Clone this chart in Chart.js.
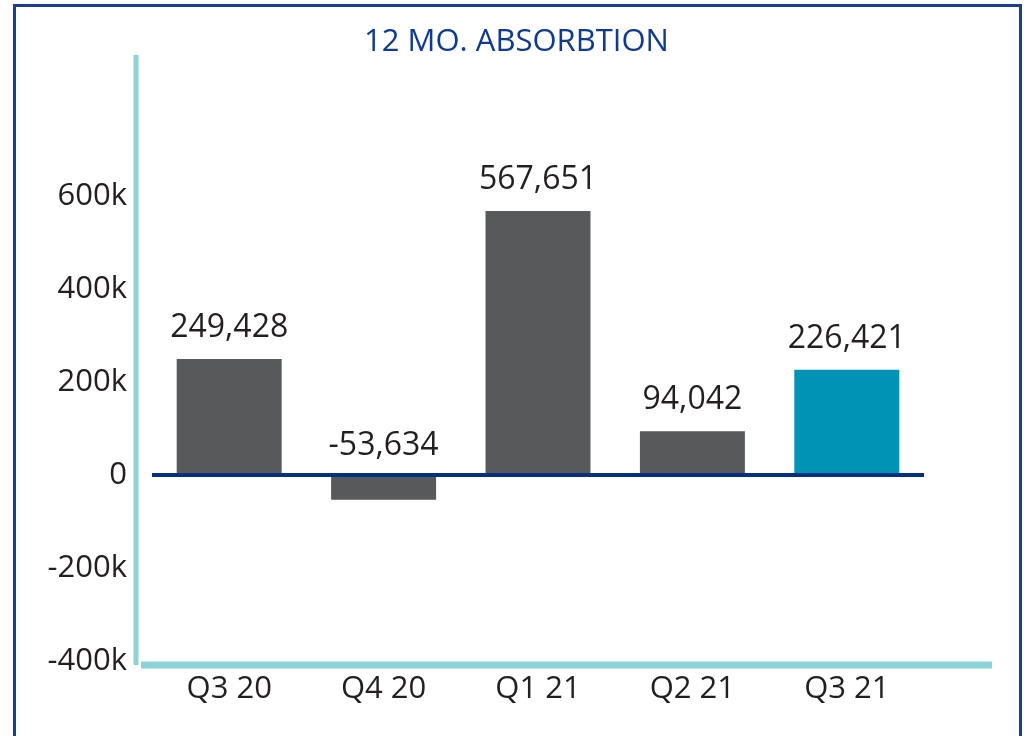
<!DOCTYPE html>
<html>
<head>
<meta charset="utf-8">
<script src="https://cdn.jsdelivr.net/npm/chart.js@4/dist/chart.umd.min.js"></script>
<style>
  body { margin: 0; background: #fff; }
  #frame {
    position: absolute; left: 13px; top: 4px; width: 1009px; height: 780px;
    border: 3px solid #1a3f8f; box-sizing: border-box;
  }
  #wrap { position: absolute; left: 0; top: 0; width: 1029px; height: 736px; }
</style>
</head>
<body>
<div id="frame"></div>
<div id="wrap"><canvas id="myChart" width="1029" height="736"></canvas></div>
<script>
let chart_title = '12 MO. ABSORBTION';
let quarters = ['Q3 20', 'Q4 20', 'Q1 21', 'Q2 21', 'Q3 21'];
let absorption = [249428, -53634, 567651, 94042, 226421];
let bar_colors = ['#58595b', '#58595b', '#58595b', '#58595b', '#0093b5'];
let y_tick_values = [-400000, -200000, 0, 200000, 400000, 600000];
let y_tick_labels = ['-400k', '-200k', '0', '200k', '400k', '600k'];

const axis_teal = '#8cd3d8';
const navy = '#00307f';

// teal axis lines drawn by hand, like the original
const axisLines = {
    id: 'axisLines',
    beforeDatasetsDraw(chart) {
        let ctx = chart.ctx;
        let a = chart.chartArea;
        ctx.save();
        ctx.strokeStyle = axis_teal;
        ctx.lineWidth = 5;
        ctx.beginPath();
        ctx.moveTo(a.left - 16, a.top - 3);
        ctx.lineTo(a.left - 16, a.bottom);
        ctx.stroke();
        ctx.lineWidth = 7;
        ctx.beginPath();
        ctx.moveTo(a.left - 11, a.bottom);
        ctx.lineTo(a.right + 68, a.bottom);
        ctx.stroke();
        ctx.restore();
    }
};

// title centred on the whole frame, not on the plot box
const frameTitle = {
    id: 'frameTitle',
    afterDraw(chart) {
        let ctx = chart.ctx;
        ctx.save();
        ctx.font = '31px "Open Sans"';
        ctx.fillStyle = '#0f3a8e';
        ctx.textAlign = 'center';
        ctx.textBaseline = 'middle';
        ctx.fillText(chart_title, chart.width / 2 + 2, 42);
        ctx.restore();
    }
};

// value labels above each bar (negative ones sit above the zero line)
const valueLabels = {
    id: 'valueLabels',
    afterDatasetsDraw(chart) {
        let ctx = chart.ctx;
        let meta = chart.getDatasetMeta(0);
        ctx.save();
        ctx.font = '32px "Open Sans"';
        ctx.fillStyle = '#231f20';
        ctx.textAlign = 'center';
        ctx.textBaseline = 'middle';
        meta.data.forEach((bar, i) => {
            let top = Math.min(bar.y, bar.base);
            ctx.fillText(absorption[i].toLocaleString('en-US'), bar.x, top - 31);
        });
        ctx.restore();
    }
};

function myChart() {
    let ctx = document.getElementById('myChart').getContext('2d');
    new Chart(ctx, {
        type: 'bar',
        data: {
            labels: quarters,
            datasets: [{
                label: '12 Mo. Absorption',
                data: absorption,
                backgroundColor: bar_colors,
                borderWidth: 0,
                barPercentage: 0.68,
                categoryPercentage: 1
            }]
        },
        options: {
            responsive: false,
            animation: false,
            layout: {
                padding: { top: 58, left: 46, right: 105, bottom: 21 }
            },
            plugins: {
                legend: { display: false },
                tooltip: { enabled: false },
                title: { display: false }
            },
            scales: {
                x: {
                    afterFit: scale => { scale.height = 50; },
                    grid: { display: false, drawTicks: false },
                    border: { display: false },
                    ticks: {
                        color: '#231f20',
                        font: { family: 'Open Sans', size: 31 },
                        padding: 6
                    }
                },
                y: {
                    min: -409000,
                    max: 897000,
                    afterFit: scale => { scale.width = 106; },
                    afterBuildTicks: scale => {
                        scale.ticks = y_tick_values.map(v => ({ value: v }));
                    },
                    border: { display: false },
                    grid: {
                        drawTicks: false,
                        lineWidth: 4,
                        color: c => c.tick && c.tick.value === 0 ? navy : 'transparent'
                    },
                    ticks: {
                        color: '#231f20',
                        font: { family: 'Open Sans', size: 31 },
                        padding: 25,
                        callback: value => y_tick_labels[y_tick_values.indexOf(value)]
                    }
                }
            }
        },
        plugins: [axisLines, valueLabels, frameTitle]
    });
}
myChart()
</script>
</body>
</html>
